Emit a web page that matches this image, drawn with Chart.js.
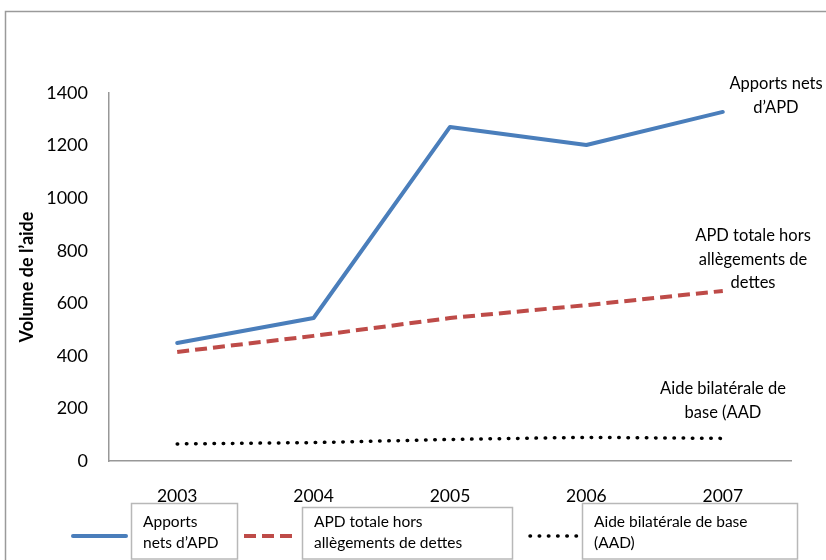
<!DOCTYPE html>
<html>
<head>
<meta charset="utf-8">
<script src="https://cdn.jsdelivr.net/npm/chart.js@4"></script>
<style>
  html, body { margin: 0; padding: 0; background: #fff; }
  #wrap { width: 826px; height: 560px; position: relative; }
</style>
</head>
<body>
<div id="wrap"><canvas id="c" width="826" height="560"></canvas></div>
<script>
// Années (axe des catégories)
const years = ['2003', '2004', '2005', '2006', '2007'];

// Séries (volume de l'aide)
const apportsNets = [449, 544, 1271, 1202, 1328];
const apdHorsDettes = [415, 476, 544, 593, 647];
const aideBilaterale = [65, 70, 82, 90, 86];

// Noms des séries, découpés comme dans les cadres de légende
const seriesNames = ['Apports nets d’APD', 'APD totale hors allègements de dettes', 'Aide bilatérale de base (AAD)'];
const legendLines = [
  ['Apports', 'nets d’APD'],
  ['APD totale hors', 'allègements de dettes'],
  ['Aide bilatérale de base', '(AAD)']
];
// Étiquettes placées au bout des courbes
const endLabels = [
  ['Apports nets', 'd’APD'],
  ['APD totale hors', 'allègements de', 'dettes'],
  ['Aide bilatérale de', 'base (AAD']
];

// Graduations de l'axe des valeurs
const yMax = 1400;
const yStep = 200;
const yTitle = 'Volume de l’aide';

const FONT = 'Lato, "Open Sans", sans-serif';

// Cadre gris autour de toute la figure
const frame = {
  id: 'frame',
  beforeDraw(chart) {
    const ctx = chart.ctx;
    ctx.save();
    ctx.strokeStyle = '#9a9a9a';
    ctx.lineWidth = 1.5;
    ctx.strokeRect(5.5, 11.5, 900, 700);
    ctx.restore();
  }
};

// Textes au bout des courbes
const endText = {
  id: 'endText',
  afterDatasetsDraw(chart) {
    const ctx = chart.ctx;
    const spots = [
      { x: 776, y: 84 },
      { x: 753, y: 236 },
      { x: 723, y: 389 }
    ];
    ctx.save();
    ctx.fillStyle = '#000';
    ctx.font = '16.5px ' + FONT;
    ctx.textAlign = 'center';
    ctx.textBaseline = 'middle';
    endLabels.forEach((lines, i) => {
      lines.forEach((t, j) => ctx.fillText(t, spots[i].x, spots[i].y + j * 23.5));
    });
    ctx.restore();
  }
};

// Légende : trait de la série suivi d'un cadre contenant le nom
const boxedLegend = {
  id: 'boxedLegend',
  afterDraw(chart) {
    const ctx = chart.ctx;
    const items = [
      { lx0: 73, lx1: 126, bx: 131, by: 503, bw: 106 },
      { lx0: 244, lx1: 292, bx: 302, by: 507, bw: 210 },
      { lx0: 530, lx1: 578, bx: 582, by: 503, bw: 215 }
    ];
    const ly = 536;
    ctx.save();
    chart.data.datasets.forEach((ds, i) => {
      const it = items[i];
      ctx.beginPath();
      ctx.strokeStyle = ds.borderColor;
      ctx.lineWidth = ds.borderWidth;
      ctx.lineCap = ds.borderCapStyle || 'butt';
      ctx.setLineDash(ds.borderDash || []);
      ctx.moveTo(it.lx0, ly);
      ctx.lineTo(it.lx1, ly);
      ctx.stroke();
      ctx.setLineDash([]);
      ctx.lineCap = 'butt';
      ctx.strokeStyle = '#b8b8b8';
      ctx.lineWidth = 1.5;
      ctx.strokeRect(it.bx + 0.5, it.by + 0.5, it.bw, 559 - it.by - 0.5);
      ctx.fillStyle = '#000';
      ctx.font = '15.5px ' + FONT;
      ctx.textAlign = 'left';
      ctx.textBaseline = 'middle';
      legendLines[i].forEach((t, j) => ctx.fillText(t, it.bx + 12, 522 + j * 21));
    });
    ctx.restore();
  }
};

new Chart(document.getElementById('c'), {
  type: 'line',
  data: {
    labels: years,
    datasets: [
      {
        label: seriesNames[0],
        data: apportsNets,
        borderColor: '#4a7ebb',
        borderWidth: 4,
        borderCapStyle: 'round',
        borderJoinStyle: 'round',
        pointRadius: 0,
        tension: 0,
        fill: false
      },
      {
        label: seriesNames[1],
        data: apdHorsDettes,
        borderColor: '#be4b48',
        borderWidth: 4,
        borderDash: [12, 6],
        borderCapStyle: 'butt',
        pointRadius: 0,
        tension: 0,
        fill: false
      },
      {
        label: seriesNames[2],
        data: aideBilaterale,
        borderColor: '#000000',
        borderWidth: 3.5,
        borderDash: [0.5, 8.7],
        borderCapStyle: 'round',
        pointRadius: 0,
        tension: 0,
        fill: false
      }
    ]
  },
  options: {
    responsive: false,
    animation: false,
    layout: { padding: { left: 0, top: 93, right: 35, bottom: 0 } },
    plugins: {
      legend: { display: false },
      tooltip: { enabled: false },
      title: { display: false }
    },
    scales: {
      x: {
        offset: true,
        grid: { display: false, offset: true },
        border: { display: true, color: '#989898', width: 1.5 },
        ticks: {
          color: '#000',
          font: { family: FONT, size: 17.5 },
          padding: 17,
          maxRotation: 0
        },
        afterFit(scale) { scale.height = 99; }
      },
      y: {
        min: 0,
        max: yMax,
        grid: { display: false },
        border: { display: true, color: '#989898', width: 1.5 },
        ticks: {
          stepSize: yStep,
          color: '#000',
          font: { family: FONT, size: 18 },
          padding: 13,
          callback: (v) => String(v)
        },
        title: {
          display: true,
          text: yTitle,
          color: '#000',
          font: { family: FONT, size: 18, weight: 'bold' },
          padding: { top: 16, bottom: 0 }
        },
        afterFit(scale) { scale.width = 109; }
      }
    }
  },
  plugins: [frame, endText, boxedLegend]
});
</script>
</body>
</html>
